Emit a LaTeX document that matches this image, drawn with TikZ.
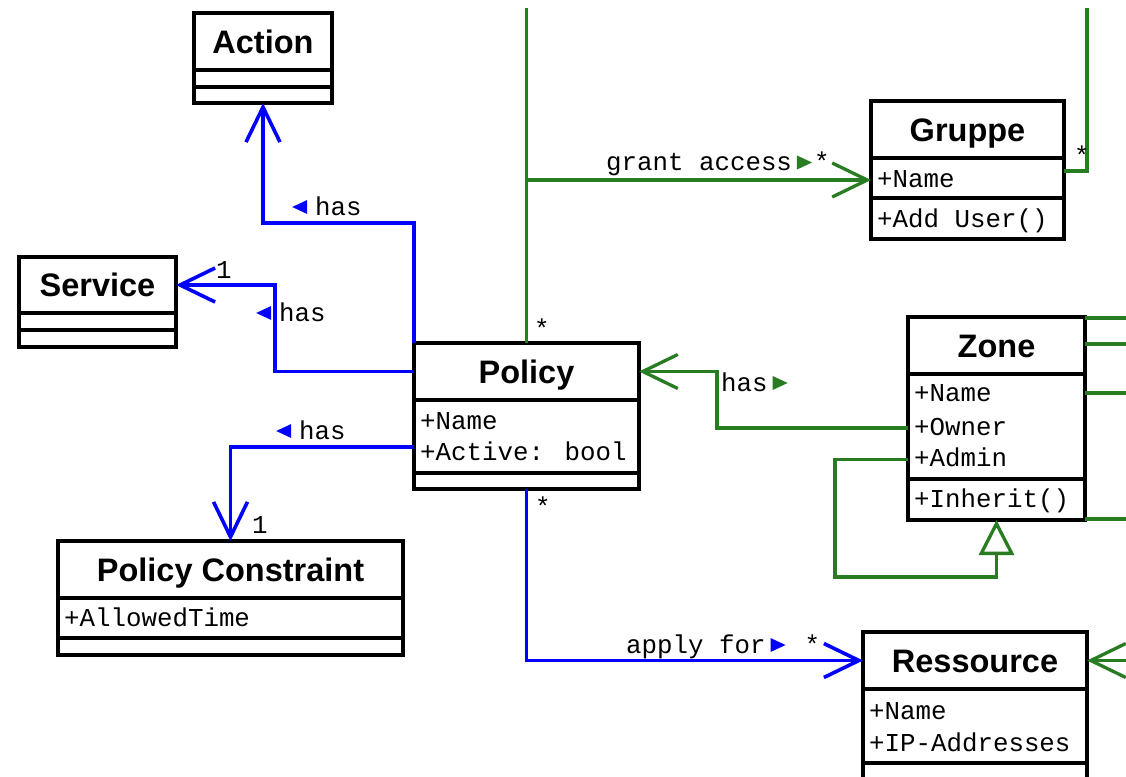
\documentclass[tikz,border=0pt]{standalone}
\usepackage{fontspec}
\setmainfont{Liberation Sans}
\newfontfamily\umlmono{Liberation Mono}
\usetikzlibrary{arrows.meta,calc}
\definecolor{umlblue}{RGB}{0,0,255}
\definecolor{umlgreen}{RGB}{40,125,35}
% reading-direction triangles for association names
\newcommand\dirleft[1]{\tikz[baseline=0pt,x=1pt,y=1pt]\fill[#1] (0,8) -- (15,1) -- (15,15) -- cycle;}
\newcommand\dirright[1]{\tikz[baseline=0pt,x=1pt,y=1pt]\fill[#1] (0,1) -- (15,8) -- (0,15) -- cycle;}

\begin{document}
\begin{tikzpicture}[x=1pt,y=-1pt,
  box/.style={draw, line width=4pt, anchor=north west, inner sep=0pt, outer sep=0pt},
  ttl/.style={anchor=north west, inner sep=0pt, outer sep=0pt, text height=23.3pt, text depth=0pt,
    font=\bfseries\fontsize{32.5pt}{38pt}\selectfont},
  attr/.style={anchor=west, inner sep=0pt, text height=14.7pt, text depth=0pt,
    font=\umlmono\fontsize{25.8pt}{30pt}\selectfont},
  lbl/.style={anchor=base west, inner sep=0pt, font=\umlmono\fontsize{25.8pt}{30pt}\selectfont},
  cls/.style={line width=4pt},
  bl/.style={draw=umlblue, line width=3.6pt},
  gr/.style={draw=umlgreen, line width=3.3pt},
  opentip/.style={-{Straight Barb[length=35pt,width=34pt]}},
  inherittip/.style={-{Triangle[open,fill=white,length=35pt,width=35pt]}},
]
\clip (0,0) rectangle (1126,776);
\fill[white] (0,0) rectangle (1126,776);

% ---------- classes ----------
% Action
\node[box, minimum width=138pt, minimum height=90pt] (action) at (194,13) {};
\node[ttl, minimum width=138pt, minimum height=57pt] (actionT) at (194,13) {Action};
\draw[cls] (actionT.south west) -- (actionT.south east);
\draw[cls] ($(action.north west)+(0,74)$) -- ($(action.north east)+(0,74)$);

% Service
\node[box, minimum width=157pt, minimum height=90pt] (service) at (19,257) {};
\node[ttl, minimum width=157pt, minimum height=56pt] (serviceT) at (19,257) {Service};
\draw[cls] (serviceT.south west) -- (serviceT.south east);
\draw[cls] ($(service.north west)+(0,73)$) -- ($(service.north east)+(0,73)$);

% Policy
\node[box, minimum width=225pt, minimum height=146pt] (policy) at (414,343) {};
\node[ttl, minimum width=225pt, minimum height=57pt] (policyT) at (414,343) {Policy};
\draw[cls] (policyT.south west) -- (policyT.south east);
\draw[cls] ($(policy.north west)+(0,130)$) -- ($(policy.north east)+(0,130)$);
\node[attr] (pname) at (420,422) {+Name};
\node[attr] (pactive) at (420,453) {+Active: bool};

% Gruppe
\node[box, minimum width=193pt, minimum height=138pt] (gruppe) at (871,101) {};
\node[ttl, minimum width=193pt, minimum height=57pt] (gruppeT) at (871,101) {Gruppe};
\draw[cls] (gruppeT.south west) -- (gruppeT.south east);
\draw[cls] ($(gruppe.north west)+(0,97)$) -- ($(gruppe.north east)+(0,97)$);
\node[attr] (gname) at (877,180) {+Name};
\node[attr] (gadd) at (877,220) {+Add User()};

% Zone
\node[box, minimum width=177pt, minimum height=203pt] (zone) at (908,317) {};
\node[ttl, minimum width=177pt, minimum height=57pt] (zoneT) at (908,317) {Zone};
\draw[cls] (zoneT.south west) -- (zoneT.south east);
\draw[cls] ($(zone.north west)+(0,162)$) -- ($(zone.north east)+(0,162)$);
\node[attr] (zname) at (914,394.5) {+Name};
\node[attr] (zowner) at (914,428) {+Owner};
\node[attr] (zadmin) at (914,459.5) {+Admin};
\node[attr] (zinherit) at (914,500.5) {+Inherit()};

% Ressource
\node[box, minimum width=224pt, minimum height=170pt] (res) at (863,632) {};
\node[ttl, minimum width=224pt, minimum height=57pt] (resT) at (863,632) {Ressource};
\draw[cls] (resT.south west) -- (resT.south east);
\draw[cls] ($(res.north west)+(0,131)$) -- ($(res.north east)+(0,131)$);
\node[attr] (rname) at (869,712) {+Name};
\node[attr] (rip) at (869,744) {+IP-Addresses};

% Policy Constraint
\node[box, minimum width=345pt, minimum height=114pt] (pc) at (58,541) {};
\node[ttl, minimum width=345pt, minimum height=57pt] (pcT) at (58,541) {Policy Constraint};
\draw[cls] (pcT.south west) -- (pcT.south east);
\draw[cls] ($(pc.north west)+(0,97)$) -- ($(pc.north east)+(0,97)$);
\node[attr] (pctime) at (64,619) {+AllowedTime};

% ---------- free ends of connectors leaving the sheet ----------
\coordinate (feedL) at (527,8);
\coordinate (feedR) at (1087,8);
\coordinate (feedRes) at (1140,660.5);

% ---------- blue associations ----------
\draw[bl, opentip] (policy.north west) -- ++(0,-120) -| (action.south);
\draw[bl, opentip] (policyT.west) -- ++(-139,0) |- (serviceT.east);
\draw[bl, opentip] ($(policy.north west)+(0,104)$) -| (pc.north);
\draw[bl, opentip] (policy.south) |- (resT.west);

% ---------- green associations ----------
\draw[gr] (policy.north) -- (policy.north |- feedL);
\draw[gr, opentip] (policy.north |- gname) -- (gruppe.west |- gname);
\draw[gr] ($(gruppe.north east)+(0,70)$) -| (feedR);
\foreach \dy in {1,27,76,202}
  \draw[gr] ($(zone.north east)+(0,\dy)$) -- ++(60,0);
\draw[gr, opentip] (zone.west |- zowner) -- ++(-191,0) |- (policyT.east);
\draw[gr, inherittip] (zone.west |- zadmin) -- ++(-73,0) |- ($(zone.south)+(0,57)$) -- (zone.south);
\draw[gr, opentip] (feedRes) -- (resT.east);

% ---------- association names ----------
\node[lbl] (lAction) at (292,215) {\dirleft{umlblue}\hspace{8pt}has};
\node[lbl] (lService) at (256,321) {\dirleft{umlblue}\hspace{8pt}has};
\node[lbl] (lPC) at (276,439) {\dirleft{umlblue}\hspace{8pt}has};
\node[lbl] (lZone) at (721,391) {has\hspace{5pt}\dirright{umlgreen}};
\node[lbl] (lGrant) at (606,170.5) {grant access\hspace{5pt}\dirright{umlgreen}\hspace{2pt}*};
\node[lbl] (lApply) at (626,653) {apply for\hspace{5pt}\dirright{umlblue}\hspace{19pt}*};

% ---------- multiplicities ----------
\node[lbl] (mService) at (216,278) {1};
\node[lbl] (mPC) at (252,533) {1};
\node[lbl] (mPolTop) at (534,337) {*};
\node[lbl] (mPolBot) at (535,515) {*};
\node[lbl] (mGruppe) at (1074,164) {*};
\end{tikzpicture}
\end{document}
